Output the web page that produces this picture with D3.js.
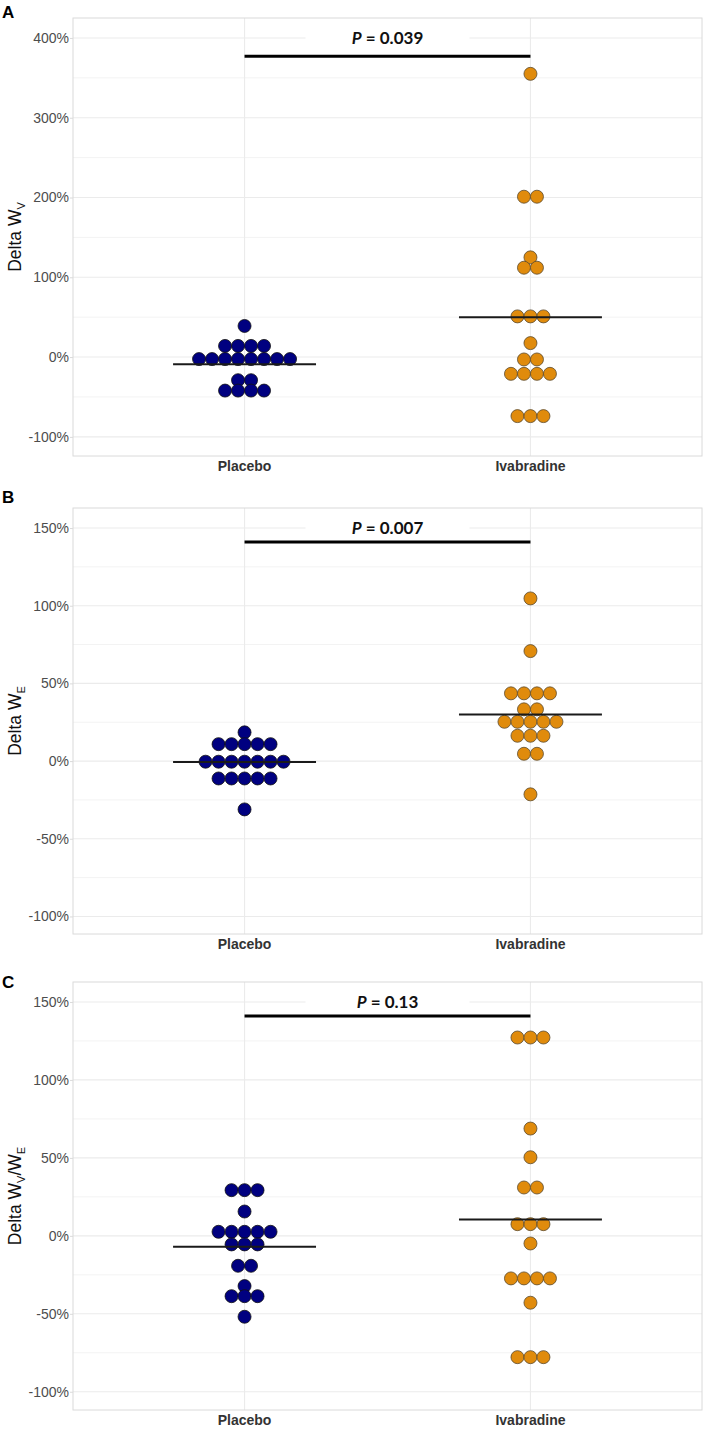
<!DOCTYPE html>
<html>
<head>
<meta charset="utf-8">
<script src="https://cdn.jsdelivr.net/npm/d3@7"></script>
<style>
  body { margin: 0; background: #fff; }
  text { font-family: "Liberation Sans", Arial, sans-serif; }
</style>
</head>
<body>
<div id="chart"></div>
<script>
// Step 1: data
// =================================
var groups = ["Placebo", "Ivabradine"];

// Panel A: Delta W_V (%)
var placeboWV = [39, 14, 14, 14, 14, -2.5, -2.5, -2.5, -2.5, -2.5, -2.5, -2.5, -2.5, -29, -29, -42, -42, -42, -42];
var ivabradineWV = [355, 201, 201, 125, 112, 112, 51, 51, 51, 17.5, -3, -3, -21, -21, -21, -21, -74, -74, -74];
var medianWV = [-9, 50];

// Panel B: Delta W_E (%)
var placeboWE = [18.5, 10.9, 10.9, 10.9, 10.9, 10.9, -0.4, -0.4, -0.4, -0.4, -0.4, -0.4, -0.4, -11.2, -11.2, -11.2, -11.2, -11.2, -31.1];
var ivabradineWE = [104.7, 70.8, 43.6, 43.6, 43.6, 43.6, 33.3, 33.3, 25.3, 25.3, 25.3, 25.3, 25.3, 16.3, 16.3, 16.3, 4.7, 4.7, -21.4];
var medianWE = [-0.6, 30];

// Panel C: Delta W_V/W_E (%)
var placeboRatio = [29.3, 29.3, 29.3, 15.6, 2.6, 2.6, 2.6, 2.6, 2.6, -5.5, -5.5, -5.5, -19.2, -19.2, -32.2, -38.7, -38.7, -38.7, -51.9];
var ivabradineRatio = [127.2, 127.2, 127.2, 68.8, 50.4, 31, 31, 7.5, 7.5, 7.5, -4.9, -27.3, -27.3, -27.3, -27.3, -42.9, -77.8, -77.8, -77.8];
var medianRatio = [-7, 10.5];

var pValues = ["0.039", "0.007", "0.13"];
var bracketValues = [377, 141, 141];
var labelValues = [400, 150, 150];

var ticksA = [-100, 0, 100, 200, 300, 400];
var minorA = [-50, 50, 150, 250, 350];
var ticksBC = [-100, -50, 0, 50, 100, 150];
var minorBC = [-75, -25, 25, 75, 125];

var colors = ["#000080", "#E08B0C"];
var strokes = ["#111111", "#5b4a2e"];

// Step 2: page and panel layout
// =================================
var svgWidth = 709;
var svgHeight = 1433;
var panelLeft = 73;
var panelRight = 702;
var dotR = 6.5;

var panels = [
  { letter: "A", letterY: 18, top: 18, bottom: 456, domain: [-124, 425], ticks: ticksA, minor: minorA,
    values: [placeboWV, ivabradineWV], medians: medianWV, title: [["Delta W", null], ["V", "sub"]] },
  { letter: "B", letterY: 503, top: 508, bottom: 934, domain: [-111.3, 162.9], ticks: ticksBC, minor: minorBC,
    values: [placeboWE, ivabradineWE], medians: medianWE, title: [["Delta W", null], ["E", "sub"]] },
  { letter: "C", letterY: 988, top: 982, bottom: 1410, domain: [-111.7, 162.8], ticks: ticksBC, minor: minorBC,
    values: [placeboRatio, ivabradineRatio], medians: medianRatio,
    title: [["Delta W", null], ["V", "sub"], ["/W", null], ["E", "sub"]] }
];

var svg = d3.select("#chart")
  .append("svg")
  .attr("width", svgWidth)
  .attr("height", svgHeight);

// discrete x like ggplot: categories at 1 and 2, expanded by 0.6
var xScale = d3.scaleLinear()
  .domain([0.4, 2.6])
  .range([panelLeft, panelRight]);

panels.forEach(function(p, pi) {
  var g = svg.append("g");

  var yScale = d3.scaleLinear()
    .domain(p.domain)
    .range([p.bottom, p.top]);

  // Step 3: grid + border
  g.selectAll(".minor")
    .data(p.minor)
    .enter()
    .append("line")
    .attr("x1", panelLeft).attr("x2", panelRight)
    .attr("y1", d => yScale(d)).attr("y2", d => yScale(d))
    .attr("stroke", "#f3f3f3")
    .attr("stroke-width", 1);

  g.selectAll(".major")
    .data(p.ticks)
    .enter()
    .append("line")
    .attr("x1", panelLeft).attr("x2", panelRight)
    .attr("y1", d => yScale(d)).attr("y2", d => yScale(d))
    .attr("stroke", "#ebebeb")
    .attr("stroke-width", 1.1);

  g.selectAll(".vgrid")
    .data(groups)
    .enter()
    .append("line")
    .attr("x1", (d, i) => xScale(i + 1)).attr("x2", (d, i) => xScale(i + 1))
    .attr("y1", p.top).attr("y2", p.bottom)
    .attr("stroke", "#ebebeb")
    .attr("stroke-width", 1.1);

  g.append("rect")
    .attr("x", panelLeft).attr("y", p.top)
    .attr("width", panelRight - panelLeft)
    .attr("height", p.bottom - p.top)
    .attr("fill", "none")
    .attr("stroke", "#dadada")
    .attr("stroke-width", 1);

  // Step 4: axes
  var leftAxis = d3.axisLeft(yScale)
    .tickValues(p.ticks)
    .tickSize(3)
    .tickFormat(d => d + "%");

  var yAxisG = g.append("g")
    .attr("transform", `translate(${panelLeft}, 0)`)
    .call(leftAxis);
  yAxisG.select(".domain").remove();
  yAxisG.selectAll("line").attr("stroke", "#dadada");
  yAxisG.selectAll("text")
    .attr("fill", "#4d4d4d")
    .attr("font-size", "14px")
    .attr("x", -4);

  g.selectAll(".xlab")
    .data(groups)
    .enter()
    .append("text")
    .attr("x", (d, i) => xScale(i + 1))
    .attr("y", p.bottom + 14.5)
    .attr("text-anchor", "middle")
    .attr("font-size", "14px")
    .attr("font-weight", "bold")
    .attr("fill", "#333333")
    .text(d => d);

  // y title with subscripts
  var title = g.append("text")
    .attr("transform", `translate(21, ${(p.top + p.bottom) / 2}) rotate(-90)`)
    .attr("text-anchor", "middle")
    .attr("font-size", "17.5px")
    .attr("fill", "#111");
  p.title.forEach(function(part) {
    var t = title.append("tspan").text(part[0]);
    if (part[1] === "sub") {
      t.attr("font-size", "11px").attr("dy", 4);
    } else if (part[0].charAt(0) === "/") {
      t.attr("dy", -4);
    }
  });

  // panel letter
  g.append("text")
    .attr("x", 2)
    .attr("y", p.letterY)
    .attr("font-size", "17px")
    .attr("font-weight", "bold")
    .attr("fill", "#000")
    .text(p.letter);

  // Step 5: dots, stacked centred like geom_dotplot
  groups.forEach(function(grp, gi) {
    var vals = p.values[gi];
    var counts = d3.rollup(vals, v => v.length, d => d);
    var seen = new Map();
    var pts = vals.map(function(v) {
      var k = seen.get(v) || 0;
      seen.set(v, k + 1);
      return { v: v, k: k, n: counts.get(v) };
    });

    g.selectAll(".dot" + gi)
      .data(pts)
      .enter()
      .append("circle")
      .attr("cx", d => xScale(gi + 1) + (d.k - (d.n - 1) / 2) * dotR * 2)
      .attr("cy", d => yScale(d.v))
      .attr("r", dotR)
      .attr("fill", colors[gi])
      .attr("stroke", strokes[gi])
      .attr("stroke-width", 0.8);

    // median line
    g.append("line")
      .attr("x1", xScale(gi + 1 - 0.25))
      .attr("x2", xScale(gi + 1 + 0.25))
      .attr("y1", yScale(p.medians[gi]))
      .attr("y2", yScale(p.medians[gi]))
      .attr("stroke", "#1a1a1a")
      .attr("stroke-width", 2);
  });

  // Step 6: significance bracket + P label
  g.append("line")
    .attr("x1", xScale(1)).attr("x2", xScale(2))
    .attr("y1", yScale(bracketValues[pi])).attr("y2", yScale(bracketValues[pi]))
    .attr("stroke", "#000")
    .attr("stroke-width", 3);

  var cx = xScale(1.5);
  var cy = yScale(labelValues[pi]);
  g.append("rect")
    .attr("x", cx - 82).attr("y", cy - 11)
    .attr("width", 164).attr("height", 22)
    .attr("fill", "#fff");

  var pText = g.append("text")
    .attr("x", cx)
    .attr("y", cy)
    .attr("dy", "0.36em")
    .attr("text-anchor", "middle")
    .style("font-family", "Lato, 'Open Sans', sans-serif")
    .attr("font-size", "17px")
    .attr("font-weight", "bold")
    .attr("fill", "#111");
  pText.append("tspan").attr("font-style", "italic").text("P");
  pText.append("tspan").text(" = " + pValues[pi]);
});
</script>
</body>
</html>
